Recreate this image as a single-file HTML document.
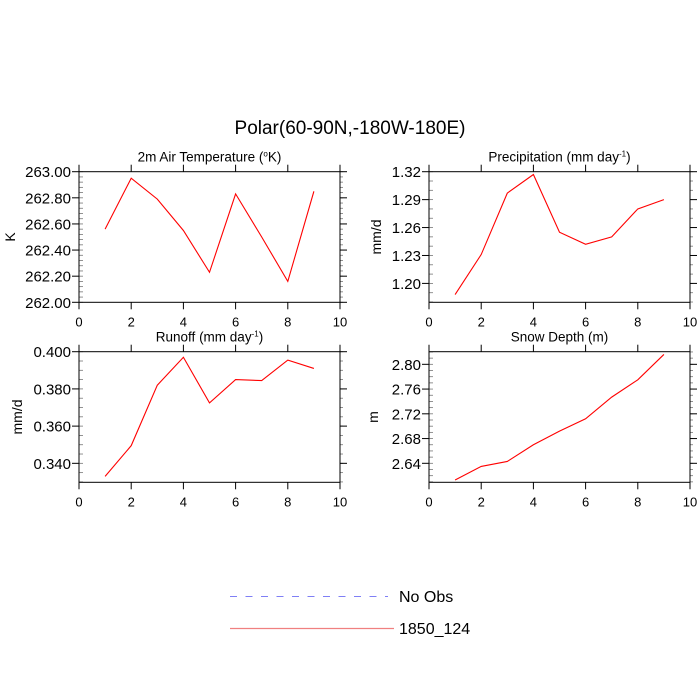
<!DOCTYPE html>
<html><head><meta charset="utf-8"><style>
html,body{margin:0;padding:0;background:#fff;}
svg{display:block;font-family:"Liberation Sans",sans-serif;}
</style></head><body>
<svg id="chart" width="700" height="700" viewBox="0 0 700 700" xmlns="http://www.w3.org/2000/svg">
<rect width="700" height="700" fill="#fff"/>
<text x="350" y="134" font-size="19" text-anchor="middle">Polar(60-90N,-180W-180E)</text>
<g id="panels"></g>
<g>
<line x1="230" y1="596.5" x2="388" y2="596.5" stroke="#7f7ff5" stroke-width="1" stroke-dasharray="7,8.5"/>
<text x="399" y="602" font-size="16">No Obs</text>
<line x1="230" y1="628.5" x2="394" y2="628.5" stroke="#f08080" stroke-width="1.2"/>
<text x="399" y="634" font-size="16">1850_124</text>
</g>
</svg>
<script>
const xValues = [1,2,3,4,5,6,7,8,9];
const xTicks = [0,2,4,6,8,10];
const tempValues = [262.56,262.95,262.79,262.55,262.23,262.83,262.50,262.16,262.85];
const tempTicks = ["262.00","262.20","262.40","262.60","262.80","263.00"];
const precipValues = [1.188,1.231,1.297,1.317,1.255,1.242,1.250,1.280,1.290];
const precipTicks = ["1.20","1.23","1.26","1.29","1.32"];
const runoffValues = [0.333,0.3495,0.382,0.397,0.3725,0.385,0.3845,0.3955,0.391];
const runoffTicks = ["0.340","0.360","0.380","0.400"];
const snowValues = [2.613,2.635,2.643,2.670,2.692,2.712,2.747,2.775,2.816];
const snowTicks = ["2.64","2.68","2.72","2.76","2.80"];

const NS='http://www.w3.org/2000/svg';
const root=document.getElementById('panels');
function mk(tag,attrs,parent){const e=document.createElementNS(NS,tag);for(const k in attrs)e.setAttribute(k,attrs[k]);parent.appendChild(e);return e;}

const panels=[
 {name:'air-temperature',title:'2m Air Temperature (',sup:'o',after:'K)',ylab:'K',yl:10,vals:tempValues,ticks:tempTicks,ymin:262.0,ymax:263.0,minor:0.04,x0:79,x1:340,y0:171.7,y1:302.3},
 {name:'precipitation',title:'Precipitation (mm day',sup:'-1',after:')',ylab:'mm/d',yl:376,vals:precipValues,ticks:precipTicks,ymin:1.1797,ymax:1.32,minor:0.01,x0:429,x1:690,y0:171.7,y1:302.3},
 {name:'runoff',title:'Runoff (mm day',sup:'-1',after:')',ylab:'mm/d',yl:17,vals:runoffValues,ticks:runoffTicks,ymin:0.3298,ymax:0.400,minor:0.005,x0:79,x1:340,y0:351.7,y1:482.3},
 {name:'snow-depth',title:'Snow Depth (m)',sup:'',after:'',ylab:'m',yl:373,vals:snowValues,ticks:snowTicks,ymin:2.6093,ymax:2.8204,minor:0.01,x0:429,x1:690,y0:351.7,y1:482.3}
];

panels.forEach(p=>{
 const g=mk('g',{},root);
 
 
 const sx=v=>p.x0+(v-0)/(10-0)*(p.x1-p.x0);
 const sy=v=>p.y1-(v-p.ymin)/(p.ymax-p.ymin)*(p.y1-p.y0);
 const start=Math.ceil(p.ymin/p.minor-1e-6);
 for(let i=start;i*p.minor<=p.ymax+1e-9;i++){
  const y=sy(i*p.minor);
  mk('line',{x1:p.x0,x2:p.x0+4,y1:y,y2:y,stroke:'#777','stroke-width':0.8},g);
  mk('line',{x1:p.x1,x2:p.x1+3,y1:y,y2:y,stroke:'#777','stroke-width':0.8},g);
 }
 p.ticks.forEach(t=>{
  const y=sy(parseFloat(t));
  mk('line',{x1:p.x0-7,x2:p.x0,y1:y,y2:y,stroke:'#000','stroke-width':1},g);
  mk('line',{x1:p.x1,x2:p.x1+7,y1:y,y2:y,stroke:'#000','stroke-width':1},g);
  const tx=mk('text',{x:p.x0-8,y:y+5.5,'font-size':15,'text-anchor':'end'},g);
  tx.textContent=t;
  
  
 });
 xTicks.forEach(t=>{
  const x=sx(t);
  mk('line',{x1:x,x2:x,y1:p.y1,y2:p.y1+7,stroke:'#000','stroke-width':1},g);
  mk('line',{x1:x,x2:x,y1:p.y0-7,y2:p.y0,stroke:'#000','stroke-width':1},g);
  const tx=mk('text',{x:x,y:p.y1+24,'font-size':13,'text-anchor':'middle'},g);
  tx.textContent=t;
  
  
 });
 const fr=mk('rect',{x:p.x0,y:p.y0,width:p.x1-p.x0,height:p.y1-p.y0,fill:'none',stroke:'#000','stroke-width':1},g);
 
 
 const pts=p.vals.map((v,i)=>sx(xValues[i]).toFixed(2)+','+sy(v).toFixed(2)).join(' ');
 const pl=mk('polyline',{points:pts,fill:'none',stroke:'#ff0000','stroke-width':1.1},g);
 
 
 const tt=mk('text',{x:(p.x0+p.x1)/2,y:p.y0-10,'font-size':13.5,'text-anchor':'middle'},g);
 
 
 tt.appendChild(document.createTextNode(p.title));
 if(p.sup){const s=mk('tspan',{'font-size':8,dy:-5},tt);s.textContent=p.sup;const a=mk('tspan',{dy:5},tt);a.textContent=p.after;}
 const cy=(p.y0+p.y1)/2;
 const lx=p.yl+5;
 const yl=mk('text',{x:lx,y:cy,'font-size':14,'text-anchor':'middle',transform:'rotate(-90 '+lx+' '+cy+')'},g);
 yl.textContent=p.ylab;
 
 
});
</script>
</body></html>
